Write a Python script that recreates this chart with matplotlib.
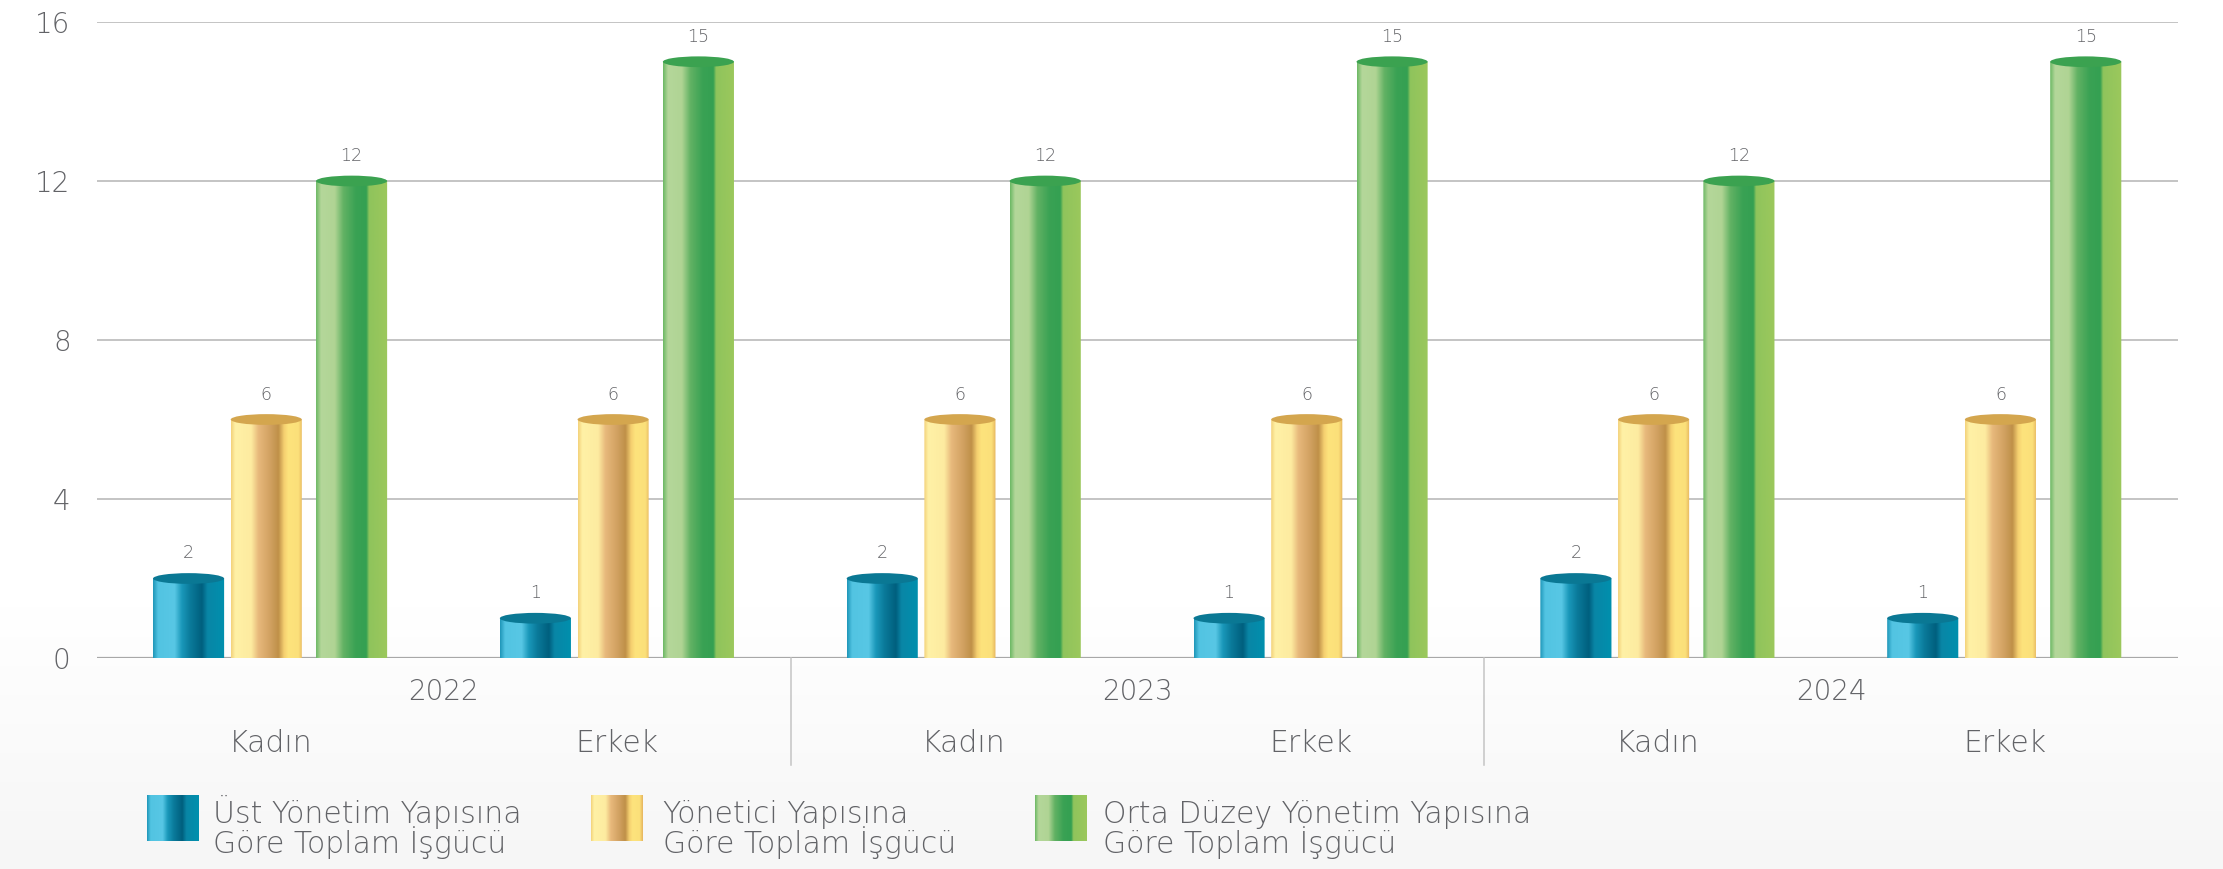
import numpy as np
import matplotlib
matplotlib.use("Agg")
import matplotlib.pyplot as plt
from matplotlib.colors import LinearSegmentedColormap
from matplotlib.patches import Ellipse, PathPatch
from matplotlib.path import Path
import matplotlib.transforms as mtransforms

# ---------------- data ----------------
years = ["2022", "2023", "2024"]
categories = ["Kadın", "Erkek", "Kadın", "Erkek", "Kadın", "Erkek"]
series_names = ["Üst Yönetim Yapısına\nGöre Toplam İşgücü",
                "Yönetici Yapısına\nGöre Toplam İşgücü",
                "Orta Düzey Yönetim Yapısına\nGöre Toplam İşgücü"]
ust = [2, 1, 2, 1, 2, 1]
yonetici = [6, 6, 6, 6, 6, 6]
orta = [12, 15, 12, 15, 12, 15]
yticks = [0, 4, 8, 12, 16]

# ---------------- style ----------------
W, H = 2223, 869
DPI = 100
TXT = "#626367"
FW = "light"
plt.rcParams["font.family"] = ["DejaVu Sans"]

grad_stops = [
    [(0.0, "#1e96b8"), (0.07, "#52c4e2"), (0.30, "#58c7e5"), (0.40, "#1a98ba"),
     (0.52, "#0a7a9a"), (0.68, "#005f7e"), (0.76, "#0986a6"), (1.0, "#0090ae")],
    [(0.0, "#f3d27a"), (0.06, "#fff1a6"), (0.28, "#fdeba0"), (0.38, "#e8b97c"),
     (0.55, "#d0a060"), (0.66, "#bf9048"), (0.74, "#f5d070"), (0.80, "#fde37c"),
     (0.94, "#fbe07a"), (1.0, "#e6b45e")],
    [(0.0, "#6cb864"), (0.07, "#b4d79a"), (0.26, "#b0d494"), (0.38, "#62b264"),
     (0.55, "#3aa254"), (0.70, "#34a052"), (0.74, "#8fc45c"), (1.0, "#9cc85c")],
]
top_colors = ["#0a7894", "#d4a64e", "#3ba250"]
offsets = [-0.236, -0.012, 0.234]
bar_w = 0.205
ell_h = 0.27  # data units (~10 px)

cmaps = [LinearSegmentedColormap.from_list(f"g{i}", s) for i, s in enumerate(grad_stops)]
grad = np.linspace(0, 1, 256).reshape(1, -1)

fig = plt.figure(figsize=(W / DPI, H / DPI), dpi=DPI)

# background (subtle fade to light grey at the bottom)
bg = fig.add_axes([0, 0, 1, 1], zorder=-5)
bg.set_axis_off()
yy = np.linspace(0, 1, 300).reshape(-1, 1)
bgvals = np.clip((yy - 0.70) / 0.30, 0, 1) * 0.035
bgimg = np.ones((300, 1, 3)) - bgvals[:, :, None] * np.array([1, 1, 1.0])
bg.imshow(bgimg, extent=[0, 1, 0, 1], aspect="auto", origin="upper")
bg.set_xlim(0, 1); bg.set_ylim(0, 1)

# main axes
left, right = 97 / W, 2178 / W
top_px, base_px = 22, 658
ax = fig.add_axes([left, 1 - base_px / H, right - left, (base_px - top_px) / H])
ax.set_facecolor("none")
n = len(categories)
ax.set_yticks(yticks)
ax.set_yticklabels([str(t) for t in yticks], fontsize=20, color=TXT, fontweight=FW)
ax.tick_params(axis="y", length=0, pad=19)
ax.set_xticks([])
for s in ax.spines.values():
    s.set_visible(False)
for t in yticks[1:]:
    ax.axhline(t, color="#b4b4b4", lw=1.1, zorder=0)
ax.axhline(0, color="#a8a8a8", lw=1.6, zorder=0)

x = np.arange(n)
series = [ust, yonetici, orta]

def cylinder(ax, xc, v, w, cmap, topc):
    x0, x1 = xc - w / 2, xc + w / 2
    th = np.linspace(0, np.pi, 60)
    bx = xc + (w / 2) * np.cos(th)
    by = -(ell_h / 2) * np.sin(th)
    verts = [(x0, v), (x1, v)] + list(zip(bx, by)) + [(x0, v)]
    path = Path(verts)
    im = ax.imshow(grad, cmap=cmap, extent=[x0, x1, -ell_h / 2, v],
                   aspect="auto", interpolation="bilinear", zorder=3)
    pp = PathPatch(path, facecolor="none", edgecolor="none", transform=ax.transData)
    ax.add_patch(pp)
    im.set_clip_path(pp)
    ax.add_patch(Ellipse((xc, v), w, ell_h, facecolor=topc, edgecolor="none",
                         zorder=4, clip_on=False))

for si, vals in enumerate(series):
    for i, v in enumerate(vals):
        xc = x[i] + offsets[si]
        cylinder(ax, xc, v, bar_w, cmaps[si], top_colors[si])
        ax.annotate(str(v), (xc, v), xytext=(0, 18), textcoords="offset points",
                    ha="center", va="center", fontsize=12.5, color=TXT, fontweight=FW)
ax.set_ylim(0, 16)
ax.set_xlim(-0.5, n - 0.5)

# x labels: categories and years
trans = mtransforms.blended_transform_factory(ax.transData, ax.transAxes)
axh = base_px - top_px
for i, c in enumerate(categories):
    ax.text(x[i], -(743 - base_px) / axh, c, transform=trans, ha="center",
            va="center", fontsize=21.5, color=TXT, fontweight=FW)
for g, yr in enumerate(years):
    ax.text(2 * g + 0.5, -(692 - base_px) / axh, yr, transform=trans, ha="center",
            va="center", fontsize=20, color=TXT, fontweight=FW)
for b in [1.5, 3.5]:
    ax.plot([b, b], [0, -(765 - base_px) / axh], transform=trans, color="#c4c4c4",
            lw=1.1, clip_on=False, zorder=1)

# legend (drawn in pixel coordinates of an overlay)
ov = fig.add_axes([0, 0, 1, 1], zorder=10)
ov.set_axis_off()
leg_patch_x = [147, 591, 1035]
leg_text_x = [213, 663, 1103]
for si, name in enumerate(series_names):
    px = leg_patch_x[si]
    ov.imshow(grad, cmap=cmaps[si], extent=[px, px + 52, 841, 795], aspect="auto",
              interpolation="bilinear")
    l1, l2 = name.split("\n")
    ov.text(leg_text_x[si], 823, l1, ha="left", va="baseline", fontsize=21.5,
            color=TXT, fontweight=FW)
    ov.text(leg_text_x[si], 853, l2, ha="left", va="baseline", fontsize=21.5,
            color=TXT, fontweight=FW)
ov.set_xlim(0, W); ov.set_ylim(H, 0)

fig.savefig("out.png", dpi=DPI)
